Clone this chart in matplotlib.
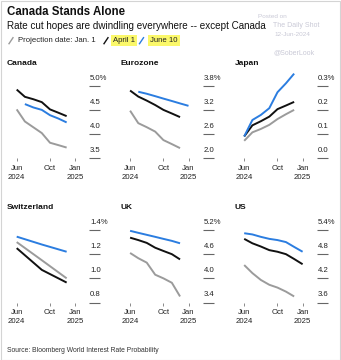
import numpy as np
import matplotlib
matplotlib.use("Agg")
import matplotlib.pyplot as plt
import matplotlib.transforms as mtransforms
from matplotlib.lines import Line2D
from matplotlib.patches import Rectangle

plt.rcParams['font.family'] = ['Liberation Sans', 'DejaVu Sans']

# monthly points, Jun 2024 .. Jan 2025
months = np.array(['2024-06-01', '2024-07-01', '2024-08-01', '2024-09-01',
                   '2024-10-01', '2024-11-01', '2024-12-01', '2025-01-01'],
                  dtype='datetime64[D]')
snb_dates = np.array(['2024-06-01', '2024-09-01', '2024-12-01'], dtype='datetime64[D]')

canada_jan1 = [4.51, 4.26, 4.14, 4.02, 3.82, 3.77, 3.72]
canada_apr1 = [4.92, 4.77, 4.72, 4.66, 4.51, 4.44, 4.37]
canada_jun10 = [4.62, 4.55, 4.50, 4.39, 4.32, 4.24]

euro_jan1 = [3.18, 2.87, 2.77, 2.66, 2.45, 2.35, 2.25]
euro_apr1 = [3.68, 3.53, 3.43, 3.32, 3.20, 3.11, 3.02]
euro_jun10 = [3.65, 3.60, 3.54, 3.48, 3.42, 3.36, 3.30]

japan_jan1 = [0.072, 0.107, 0.121, 0.138, 0.162, 0.182, 0.200]
japan_apr1 = [0.090, 0.136, 0.153, 0.172, 0.203, 0.218, 0.233]
japan_jun10 = [0.090, 0.158, 0.179, 0.207, 0.273, 0.310, 0.350]

swiss_jan1 = [1.30, 1.15, 1.00]
swiss_apr1 = [1.25, 1.07, 0.965]
swiss_jun10 = [1.345, 1.28, 1.22]

uk_jan1 = [4.63, 4.50, 4.39, 4.09, 4.00, 3.89, 3.55]
uk_apr1 = [5.01, 4.95, 4.88, 4.76, 4.68, 4.60, 4.47]
uk_jun10 = [5.18, 5.13, 5.08, 5.03, 4.98, 4.93, 4.87]

us_jan1 = [4.53, 4.33, 4.16, 4.04, 3.97, 3.87, 3.75]
us_apr1 = [5.18, 5.07, 4.99, 4.90, 4.86, 4.80, 4.68, 4.55]
us_jun10 = [5.32, 5.29, 5.23, 5.18, 5.15, 5.10, 4.98, 4.86]

panels = [
    # name, (dates, values) for Jan.1 / April 1 / June 10, y ticks, y labels
    ("Canada", (months[:7], canada_jan1), (months[:7], canada_apr1), (months[1:7], canada_jun10),
     [3.5, 4.0, 4.5, 5.0], ["3.5", "4.0", "4.5", "5.0%"]),
    ("Eurozone", (months[:7], euro_jan1), (months[:7], euro_apr1), (months[1:8], euro_jun10),
     [2.0, 2.6, 3.2, 3.8], ["2.0", "2.6", "3.2", "3.8%"]),
    ("Japan", (months[:7], japan_jan1), (months[:7], japan_apr1), (months[:7], japan_jun10),
     [0.0, 0.1, 0.2, 0.3], ["0.0", "0.1", "0.2", "0.3%"]),
    ("Switzerland", (snb_dates, swiss_jan1), (snb_dates, swiss_apr1), (snb_dates, swiss_jun10),
     [0.8, 1.0, 1.2, 1.4], ["0.8", "1.0", "1.2", "1.4%"]),
    ("UK", (months[:7], uk_jan1), (months[:7], uk_apr1), (months[:7], uk_jun10),
     [3.4, 4.0, 4.6, 5.2], ["3.4", "4.0", "4.6", "5.2%"]),
    ("US", (months[:7], us_jan1), (months[:8], us_apr1), (months[:8], us_jun10),
     [3.6, 4.2, 4.8, 5.4], ["3.6", "4.2", "4.8", "5.4%"]),
]

GREY = '#9b9b9b'
BLACK = '#111111'
BLUE = '#2b7de0'
TXT = '#222222'

W, H = 341, 360
fig = plt.figure(figsize=(W / 100, H / 100), dpi=100)
fig.patch.set_facecolor('white')


def fx(x):
    return x / W


def fy(y):
    return 1 - y / H


# outer frame
fig.patches.append(Rectangle((0.5 / W, 0.5 / H), 1 - 1.5 / W, 1 - 1.5 / H, transform=fig.transFigure,
                             fill=False, edgecolor='#d4d4d4', linewidth=0.8))

fig.text(fx(7), fy(12), "Canada Stands Alone", fontsize=8.3, fontweight='bold', color='#111', va='center')
fig.text(fx(7), fy(26), "Rate cut hopes are dwindling everywhere -- except Canada", fontsize=7.1,
         color='#111', va='center')

# legend row
leg_y = 40.7
for x0, c in [(9, GREY), (104, BLACK), (139.5, BLUE)]:
    fig.lines.append(Line2D([fx(x0), fx(x0 + 4)], [fy(leg_y + 3), fy(leg_y - 3)],
                            transform=fig.transFigure, color=c, linewidth=1.0))
fig.text(fx(18), fy(leg_y), "Projection date: Jan. 1", fontsize=5.6, color=TXT, va='center')
hl = dict(facecolor='#fbf86a', edgecolor='none', pad=1.6)
fig.text(fx(113), fy(leg_y), "April 1", fontsize=5.6, color=TXT, va='center', bbox=hl)
fig.text(fx(150), fy(leg_y), "June 10", fontsize=5.6, color=TXT, va='center', bbox=hl)

# watermark
wm = '#c9c9d6'
fig.text(fx(258), fy(16), "Posted on", fontsize=4.6, color=wm, va='center')
fig.text(fx(273), fy(25.3), "The Daily Shot", fontsize=5.0, color=wm, va='center')
fig.text(fx(274), fy(35), "12-Jun-2024", fontsize=4.6, color=wm, va='center')
fig.text(fx(273), fy(53), "@SoberLook", fontsize=5.0, color=wm, va='center')

fig.text(fx(7), fy(350.5), "Source: Bloomberg World Interest Rate Probability", fontsize=4.9,
         color='#333', va='center')

col_left = [8.5, 121.9, 236.0]
row_top = [85.7, 230.0]
ax_w, ax_h = 80.8, 72.5
xmin = np.datetime64('2024-05-02')
xmax = np.datetime64('2025-02-22')
xticks = np.array(['2024-06-01', '2024-10-01', '2025-01-01'], dtype='datetime64[D]')

for i, (name, s_jan, s_apr, s_jun, yt, ylab) in enumerate(panels):
    r, c = divmod(i, 3)
    left, top = col_left[c], row_top[r]
    ax = fig.add_axes([fx(left), fy(top + ax_h), ax_w / W, ax_h / H])
    for (d, v), col in [(s_jan, GREY), (s_apr, BLACK), (s_jun, BLUE)]:
        ax.plot(d, v, color=col, linewidth=1.4, clip_on=False, solid_capstyle='butt',
                solid_joinstyle='round')
    ax.set_xlim(xmin, xmax)
    ax.set_ylim(yt[0], yt[-1])
    for sp in ax.spines.values():
        sp.set_visible(False)
    ax.set_facecolor('none')

    ax.set_xticks(xticks)
    ax.set_xticklabels(["Jun\n2024", "Oct", "Jan\n2025"], fontsize=5.6, color=TXT,
                       linespacing=1.35, va='top')
    ax.tick_params(axis='x', length=2.4, width=0.6, color='#777', pad=2.6)

    ax.yaxis.tick_right()
    ax.set_yticks(yt)
    ax.tick_params(axis='y', length=8.2, width=0.8, color='#666', labelright=False)
    lab_tr = mtransforms.offset_copy(ax.get_yaxis_transform(), fig=fig, x=0.8, y=7.5, units='dots')
    for v, lab in zip(yt, ylab):
        ax.text(1.0, v, lab, transform=lab_tr, fontsize=5.6, color=TXT, ha='left', va='center')

    fig.text(fx(left - 1.6), fy(top - 22.5), name, fontsize=6.0, fontweight='bold', color='#111',
             va='center')

fig.savefig("out.png", dpi=100)
